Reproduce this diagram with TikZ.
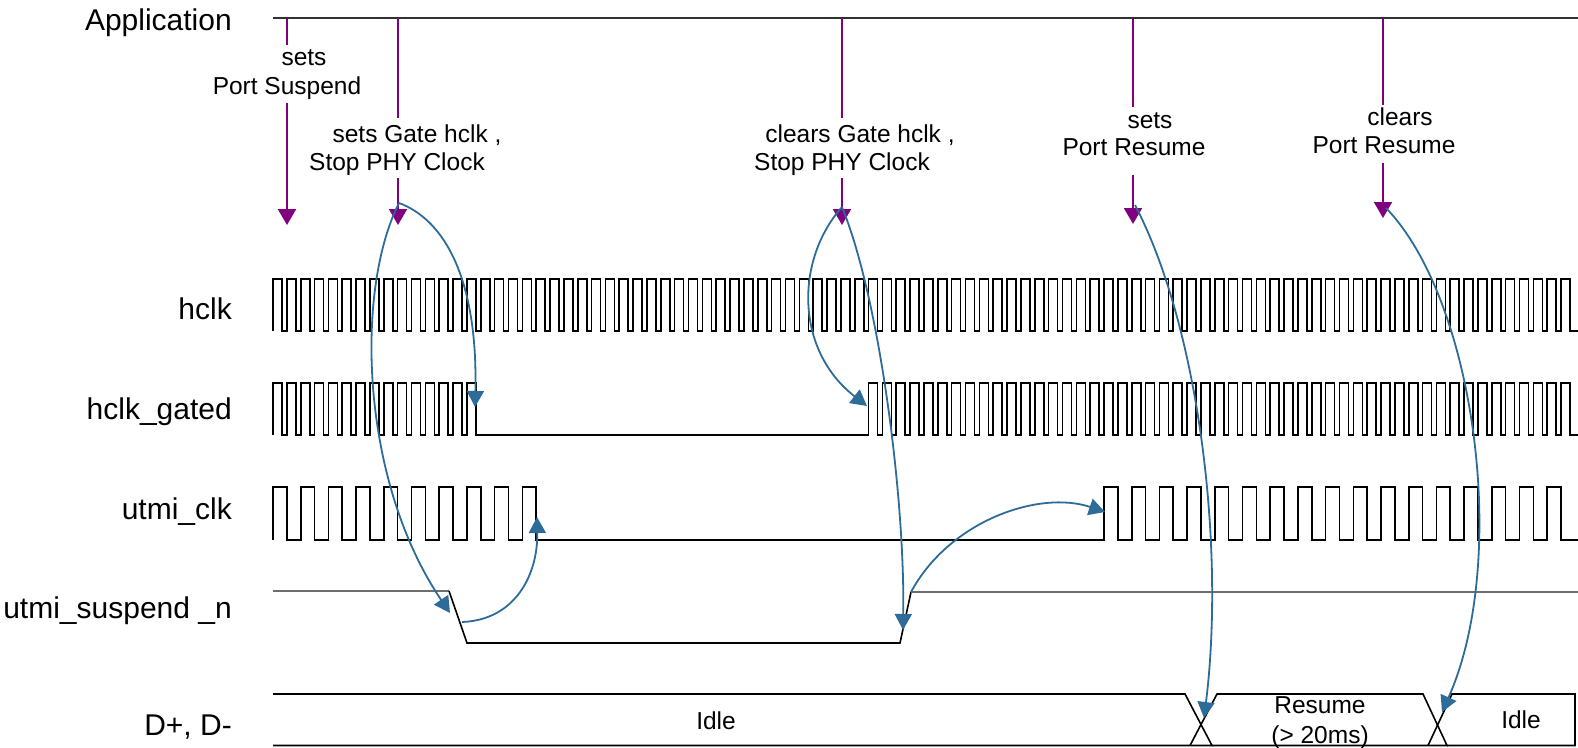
\documentclass[tikz,border=0pt]{standalone}
\usepackage{fontspec}
\setmainfont{Liberation Sans}
\usetikzlibrary{arrows.meta}
\definecolor{appl}{RGB}{128,0,128}
\definecolor{cause}{RGB}{45,108,152}
\definecolor{hiline}{RGB}{110,110,110}
\definecolor{appline}{RGB}{50,50,50}
\begin{document}
\begin{tikzpicture}[x=1pt,y=-1pt,
  wave/.style={black, line width=1.6pt, line join=miter},
  grayhigh/.style={hiline, line width=2.2pt},
  purpleline/.style={appl, line width=2pt},
  purplearrow/.style={appl, line width=2pt, -{Triangle[width=18pt,length=16pt]}},
  causearrow/.style={cause, line width=1.8pt, -{Triangle[width=17pt,length=16pt]}},
  sig/.style={font=\fontsize{30}{36}\selectfont, anchor=base east, inner sep=0pt},
  note/.style={font=\fontsize{24.5}{29}\selectfont, anchor=base, inner sep=0pt}]
\useasboundingbox (0,0) rectangle (1578,747);

% signal labels
\node[sig] (lApp) at (232,30) {Application};
\node[sig] (lhclk) at (232,319) {hclk};
\node[sig] (lhg) at (232,419) {hclk\_gated};
\node[sig] (lutmi) at (232,519) {utmi\_clk};
\node[sig] (lsusp) at (232,618) {utmi\_suspend \_n};
\node[sig] (ldp) at (232,735) {D+, D-};

% application line
\coordinate (appL) at (273,18);
\coordinate (appR) at (1578,18);
\draw[appline, line width=2pt] (appL) -- (appR);

% hclk
\draw[wave] (273,331) \foreach \k in {0,...,93}{ -- ({273+\k*13.85},331) -- ({273+\k*13.85},279) -- ({273+\k*13.85+9},279) -- ({273+\k*13.85+9},331) } -- (1578,331);

% hclk_gated
\draw[wave] (273,435)
  \foreach \k in {0,...,14}{ -- ({273+\k*13.85},435) -- ({273+\k*13.85},383) -- ({273+\k*13.85+9},383) -- ({273+\k*13.85+9},435) }
  \foreach \k in {43,...,93}{ -- ({273+\k*13.85},435) -- ({273+\k*13.85},383) -- ({273+\k*13.85+9},383) -- ({273+\k*13.85+9},435) }
  -- (1578,435);

% utmi_clk
\draw[wave] (273,540)
  \foreach \k in {0,...,9}{ -- ({273+\k*27.7},540) -- ({273+\k*27.7},487) -- ({273+\k*27.7+13.85},487) -- ({273+\k*27.7+13.85},540) }
  \foreach \k in {30,...,46}{ -- ({273+\k*27.7},540) -- ({273+\k*27.7},487) -- ({273+\k*27.7+13.85},487) -- ({273+\k*27.7+13.85},540) }
  -- (1578,540);

% utmi_suspend_n
\coordinate (sF1) at (449,591);
\coordinate (sF2) at (467,643);
\coordinate (sR1) at (900,643);
\coordinate (sR2) at (911,592);
\draw[grayhigh] (273,591) -- (sF1);
\draw[wave] (sF1) -- (sF2) -- (sR1) -- (sR2);
\draw[grayhigh] (sR2) -- (1578,592);

% D+, D- bus
\draw[wave] (273,694) -- (1185,694) -- (1212,745.5) -- (273,745.5);
\draw[wave] (1190,745.5) -- (1217,694) -- (1423,694) -- (1447,745.5) -- (1212,745.5);
\draw[wave] (1428,745.5) -- (1452,694) -- (1575,694) -- (1575,745.5) -- (1447,745.5);
\node[note] (idle1) at (716,729) {Idle};
\node[note] (res1) at (1320,713) {Resume};
\node[note] (res2) at (1320,743) {(> 20ms)};
\node[note] (idle2) at (1521,728) {Idle};

% purple application arrows
\coordinate (a1s) at (287,18); \coordinate (a1g) at (287,45); \coordinate (a1h) at (287,103); \coordinate (a1t) at (287,225);
\draw[purpleline] (a1s) -- (a1g); \draw[purplearrow] (a1h) -- (a1t);
\node[note] (t1a) at (304,65) {sets};
\node[note] (t1b) at (287,94) {Port Suspend};

\coordinate (a2s) at (398,18); \coordinate (a2g) at (398,118); \coordinate (a2h) at (398,178); \coordinate (a2t) at (398,225);
\draw[purpleline] (a2s) -- (a2g); \draw[purplearrow] (a2h) -- (a2t);
\node[note] (t2a) at (417,142) {sets Gate hclk ,};
\node[note] (t2b) at (397,170) {Stop PHY Clock};

\coordinate (a3s) at (842,18); \coordinate (a3g) at (842,118); \coordinate (a3h) at (842,178); \coordinate (a3t) at (842,225);
\draw[purpleline] (a3s) -- (a3g); \draw[purplearrow] (a3h) -- (a3t);
\node[note] (t3a) at (860,142) {clears Gate hclk ,};
\node[note] (t3b) at (842,170) {Stop PHY Clock};

\coordinate (a4s) at (1133,18); \coordinate (a4g) at (1133,107); \coordinate (a4h) at (1133,175); \coordinate (a4t) at (1133,224);
\draw[purpleline] (a4s) -- (a4g); \draw[purplearrow] (a4h) -- (a4t);
\node[note] (t4a) at (1150,128) {sets};
\node[note] (t4b) at (1134,155) {Port Resume};

\coordinate (a5s) at (1383,18); \coordinate (a5g) at (1383,105); \coordinate (a5h) at (1383,163); \coordinate (a5t) at (1383,218);
\draw[purpleline] (a5s) -- (a5g); \draw[purplearrow] (a5h) -- (a5t);
\node[note] (t5a) at (1400,125) {clears};
\node[note] (t5b) at (1384,153) {Port Resume};

% blue cause arrows
\coordinate (b1s) at (399,203); \coordinate (b1e) at (475,407);
\draw[causearrow] (b1s) .. controls (445,220) and (478,280) .. (b1e);
\coordinate (b2e) at (450,613);
\draw[causearrow] (b1s) .. controls (355,290) and (360,480) .. (b2e);
\coordinate (b3s) at (462,622); \coordinate (b3e) at (537,517);
\draw[causearrow] (b3s) .. controls (515,620) and (538,575) .. (b3e);
\coordinate (b4s) at (842,207); \coordinate (b4e) at (867,406);
\draw[causearrow] (b4s) .. controls (795,260) and (795,350) .. (b4e);
\coordinate (b5e) at (903,630);
\draw[causearrow] (b4s) .. controls (880,300) and (905,500) .. (b5e);
\coordinate (b6s) at (911,592); \coordinate (b6e) at (1105,512);
\draw[causearrow] (b6s) .. controls (950,520) and (1040,490) .. (b6e);
\coordinate (b7s) at (1135,205); \coordinate (b7e) at (1204,718);
\draw[causearrow] (b7s) .. controls (1200,330) and (1225,550) .. (b7e);
\coordinate (b8s) at (1386,208); \coordinate (b8e) at (1442,712);
\draw[causearrow] (b8s) .. controls (1475,300) and (1510,560) .. (b8e);
\end{tikzpicture}
\end{document}
